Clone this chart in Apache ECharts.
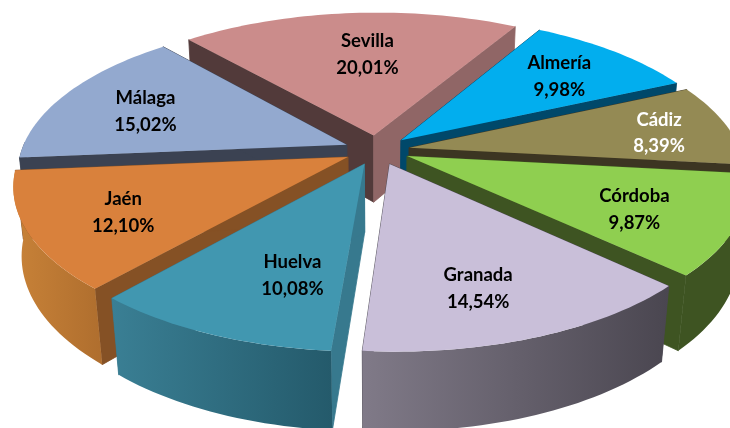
<!DOCTYPE html>
<html>
<head>
<meta charset="utf-8">
<style>html,body{margin:0;padding:0;background:#fff}#c{width:730px;height:428px}</style>
<script src="https://cdn.jsdelivr.net/npm/echarts@6/dist/echarts.min.js"></script>
</head>
<body>
<div id="c"></div>
<script>
// Data
const categories = ['Sevilla','Almería','Cádiz','Córdoba','Granada','Huelva','Jaén','Málaga'];
const values = [20.01,9.98,8.39,9.87,14.54,10.08,12.10,15.02];
const valueLabels = ['20,01%','9,98%','8,39%','9,87%','14,54%','10,08%','12,10%','15,02%'];

// Styles, one entry per category
const topColors = ['#CB8C8B','#02AEEE','#948A54','#8FCF50','#C9BFD9','#4197B0','#D9813C','#93A9CF'];
const startCutColors = ['#523A3A','#00486A','#3C3522','#3E5422','#4A4650','#37798E','#855125','#3B4252'];
const endCutColors = ['#906666','#00486A','#3C3522','#3E5422','#4A4650','#37798E','#855125','#3B4252'];
const sideFrom = ['#906666','#00486A','#3C3522','#3E5422','#807A88','#3A7F94','#C88238','#3B4252'];
const sideTo = ['#906666','#00486A','#3C3522','#3E5422','#4A4650','#245A6B','#AF6E2E','#3B4252'];
const labelColors = ['#000','#000','#fff','#000','#000','#000','#000','#000'];
const labelNudgeX = [10,11,39,13,-10,21,-21,-14];
const labelNudgeY = [5,-2,3,14,21,8,9,3];
const drawOrder = [0,7,1,2,6,3,5,4];

// Projection of the tilted disc
const startAngle = -42, explode = 0.1, labelRadius = 0.66;
const cx = 380, cy = 147, Fx = 327, Fy = 148, persp = 0.192, thick = 69, zPersp = 0.022;
const apexShiftX = -3, apexShiftY = 3;
const rad = d => d * Math.PI / 180;
const total = values.reduce((a, b) => a + b, 0);
const bounds = [];
values.reduce((acc, v, i) => { const next = acc + v / total * 360; bounds[i] = [acc, next]; return next; }, startAngle);

// The 3-D view slightly compresses the front-right quadrant
const warp = a => a + 3 * Math.exp(-Math.pow((a - 132) / 40, 2));

function project(X, Y, z) {
  const w = 1 + persp * Y + zPersp * z;
  return [cx + Fx * X / w, cy - Fy * Y / w + thick * z / w];
}
function apex(ox, oy, z) {
  const p = project(ox, oy, z);
  return [p[0] + apexShiftX, p[1] + apexShiftY];
}
function rim(ox, oy, a, z) {
  const t = rad(warp(a));
  return project(ox + Math.sin(t), oy + Math.cos(t), z);
}
function arc(ox, oy, a0, a1, z) {
  const pts = [];
  const n = Math.max(2, Math.ceil(Math.abs(a1 - a0) / 1.5));
  for (let i = 0; i <= n; i++) pts.push(rim(ox, oy, a0 + (a1 - a0) * i / n, z));
  return pts;
}
function poly(points, fill, stroke) {
  return { type: 'polygon', shape: { points }, style: { fill, stroke: stroke || null, lineWidth: stroke ? 0.8 : 0 } };
}
function renderSlice(params, api) {
  const i = api.value(0);
  const [a0, a1] = bounds[i];
  const mid = rad((a0 + a1) / 2);
  const ox = explode * Math.sin(mid), oy = explode * Math.cos(mid);
  const cutQuad = a => [apex(ox, oy, 0), rim(ox, oy, a, 0), rim(ox, oy, a, 1), apex(ox, oy, 1)];
  const children = [
    poly(cutQuad(a0), startCutColors[i], startCutColors[i]),
    poly(cutQuad(a1), endCutColors[i], endCutColors[i])
  ];
  const s0 = Math.max(a0, 90), s1 = Math.min(a1, 270);
  if (s1 > s0) {
    const pts = arc(ox, oy, s0, s1, 0).concat(arc(ox, oy, s0, s1, 1).reverse());
    children.push(poly(pts, new echarts.graphic.LinearGradient(0, 0, 1, 0, [
      { offset: 0, color: sideFrom[i] },
      { offset: 1, color: sideTo[i] }
    ])));
  }
  children.push(poly([apex(ox, oy, 0)].concat(arc(ox, oy, a0, a1, 0)), topColors[i]));
  const lp = project(ox + labelRadius * Math.sin(mid), oy + labelRadius * Math.cos(mid), 0);
  children.push({
    type: 'text', z2: 100,
    style: {
      x: lp[0] + labelNudgeX[i], y: lp[1] + labelNudgeY[i],
      text: categories[i] + '\n' + valueLabels[i],
      fill: labelColors[i], font: 'bold 18.5px Lato', lineHeight: 26.5,
      align: 'center', verticalAlign: 'middle'
    }
  });
  return { type: 'group', children };
}
const chart = echarts.init(document.getElementById('c'), null, { renderer: 'canvas' });
chart.setOption({
  animation: false,
  backgroundColor: '#fff',
  series: [{
    type: 'custom', coordinateSystem: 'none', silent: true, clip: false,
    renderItem: renderSlice,
    data: drawOrder.map(i => [i, values[i]])
  }]
});
</script>
</body>
</html>
